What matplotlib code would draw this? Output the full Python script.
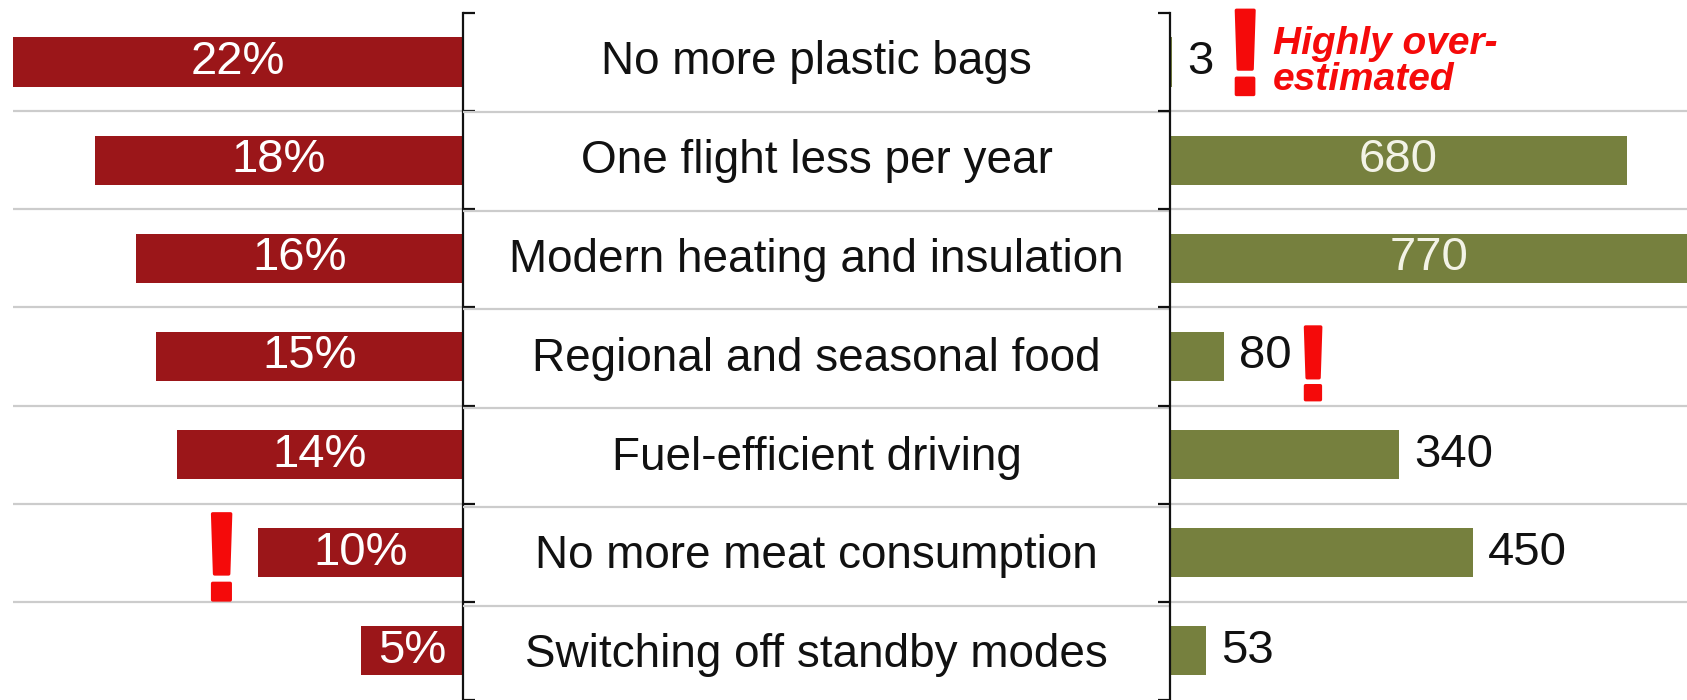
import matplotlib.pyplot as plt
import matplotlib.patheffects as pe
import numpy as np

actions = [
    "No more plastic bags",
    "One flight less per year",
    "Modern heating and insulation",
    "Regional and seasonal food",
    "Fuel-efficient driving",
    "No more meat consumption",
    "Switching off standby modes",
]
share = [22, 18, 16, 15, 14, 10, 5]            # perceived impact, % of answers
savings = [3, 680, 770, 80, 340, 450, 53]      # actual saving, kg CO2 per year

red = "#9B1619"
olive = "#76803E"
alert = "#F50A0A"
sep = "#CCCCCC"
ink = "#111111"

plt.rcParams["font.family"] = ["Liberation Sans", "DejaVu Sans"]

W, H = 1687, 700
fig = plt.figure(figsize=(W / 100, H / 100), dpi=100)

rows = np.arange(len(actions))
bounds = np.arange(len(actions) + 1) - 0.5
ylim = (6.453, -0.632)

axL = fig.add_axes([0, 0, 463 / W, 1])
axM = fig.add_axes([463 / W, 0, (1170 - 463) / W, 1])
axR = fig.add_axes([1170 / W, 0, 1 - 1170 / W, 1])

# left: perceived share
axL.barh(rows, share, height=0.5, color=red, zorder=2)
axL.set_xlim(22.64, 0)
axL.set_ylim(*ylim)
axL.hlines(bounds[1:-1], 0, max(share), color=sep, lw=1.6, zorder=0)
for y, v in zip(rows, share):
    axL.text(v / 2, y, f"{v}%", ha="center", va="center", color="white", fontsize=34, zorder=3)

# right: actual savings
axR.barh(rows, savings, height=0.5, color=olive, zorder=2)
axR.set_xlim(0, 769)
axR.set_ylim(*ylim)
for b in bounds[1:-1]:
    axR.axhline(b, color=sep, lw=1.6, zorder=0)
for y, v in zip(rows, savings):
    if v > 600:
        axR.text(v / 2, y, str(v), ha="center", va="center", color="#F3F3E6", fontsize=34, zorder=3)
    else:
        axR.annotate(str(v), (v, y), xytext=(11, 0), textcoords="offset points",
                     ha="left", va="center", color=ink, fontsize=34)

# brackets = y axes with outward ticks at the row borders
for ax, side in ((axL, "right"), (axR, "left")):
    for s in ax.spines:
        ax.spines[s].set_visible(s == side)
    ax.spines[side].set_bounds(-0.5, len(actions) - 0.5)
    ax.spines[side].set_linewidth(1.6)
    ax.spines[side].set_color(ink)
    ax.set_xticks([])
    ax.set_yticks(bounds)
    ax.set_yticklabels([])
    ax.tick_params(axis="y", direction="out", length=8.5, width=1.6, color=ink,
                   left=(side == "left"), right=(side == "right"))
    ax.set_facecolor("none")

# middle: action labels
axM.set_xlim(0, 1)
axM.set_ylim(*ylim)
axM.axis("off")
axM.hlines(bounds[1:-1], 0, 1, color=sep, lw=1.6, zorder=0)
for y, name in zip(rows, actions):
    axM.text(0.5, y, name, ha="center", va="center", color=ink, fontsize=33)

# warning marks
fat = [pe.withStroke(linewidth=2.5, foreground=alert)]
axR.text(112, 0.33, "!", ha="center", va="baseline", color=alert, fontsize=88,
         fontweight="bold", path_effects=fat)
axR.text(153, 0.0, "Highly over-\nestimated", ha="left", va="center", color=alert,
         fontsize=28, fontweight="bold", fontstyle="italic", linespacing=1.02)
axR.text(213, 3.44, "!", ha="center", va="baseline", color=alert, fontsize=76,
         fontweight="bold", path_effects=fat)
axL.text(11.8, 5.48, "!", ha="center", va="baseline", color=alert, fontsize=90,
         fontweight="bold", path_effects=fat)

fig.savefig("out.png", dpi=100, facecolor="white")
